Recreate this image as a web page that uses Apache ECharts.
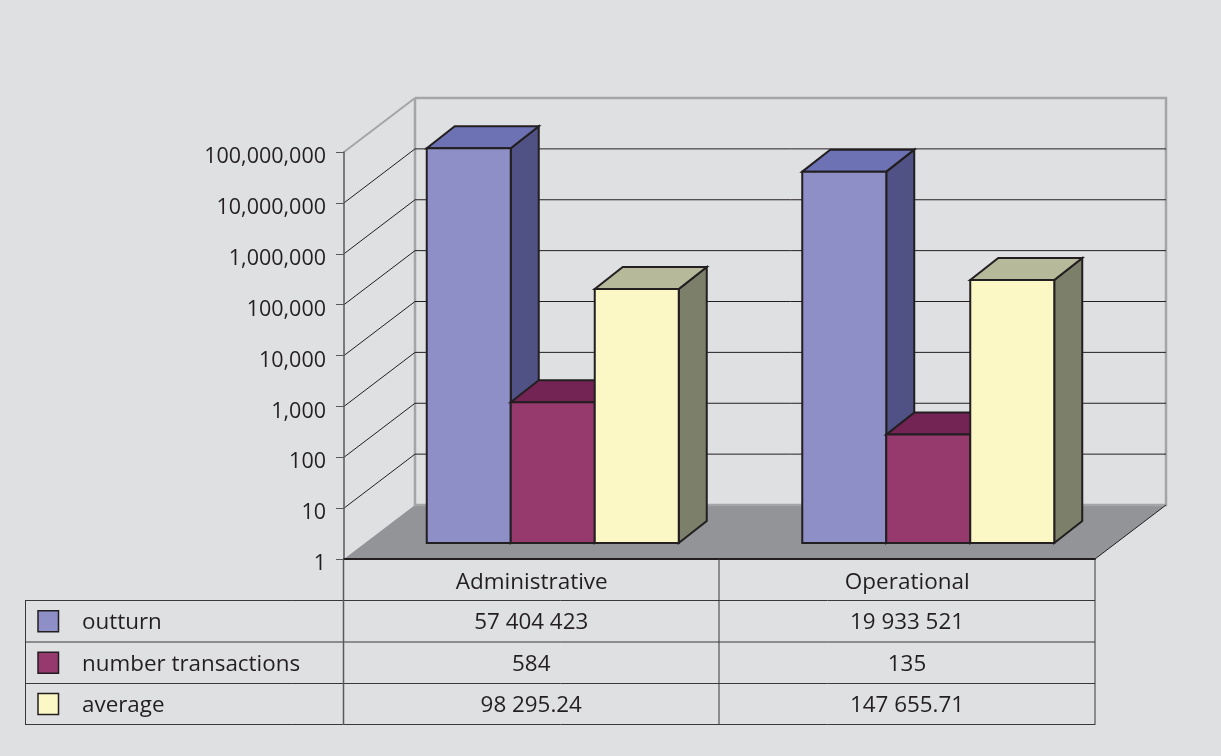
<!DOCTYPE html>
<html><head><meta charset="utf-8">
<style>html,body{margin:0;padding:0;background:#dfe0e2}#c{width:1221px;height:756px}</style>
<script src="https://cdn.jsdelivr.net/npm/echarts@6/dist/echarts.min.js"></script>
</head><body><div id="c"></div>
<script>
const categories = ['Administrative', 'Operational'];
const outturn = [57404423, 19933521];
const numberTransactions = [584, 135];
const average = [98295.24, 147655.71];
const seriesNames = ['outturn', 'number transactions', 'average'];
const yTicks = [10, 100, 1000, 10000, 100000, 1000000, 10000000, 100000000];

const FONT = '"Open Sans", "Noto Sans", sans-serif';
const INK = '#231f20';
const colors = [
  {front: '#8d8fc6', top: '#6d72b4', side: '#505285'},
  {front: '#963a6e', top: '#732454', side: '#5f1d45'},
  {front: '#fbf8c6', top: '#b6b99a', side: '#7c7f69'}
];
const GRID = {left: 344, top: 152, width: 751, height: 407};
const WALL_DX = 71, WALL_DY = 54, BAR_INSET_X = 21, BAR_INSET_Y = 16, BAR_DX = 28, BAR_DY = 22, BAR_W = 84;

function fmtSpaced(v) {
  const p = String(v).split('.');
  p[0] = p[0].replace(/\B(?=(\d{3})+(?!\d))/g, ' ');
  return p.join('.');
}
function poly(points, fill, stroke, lw, z2) {
  return {type: 'polygon', z2: z2 || 0, shape: {points},
    style: {fill: fill, stroke: stroke || null, lineWidth: lw || 0, lineJoin: 'miter'}};
}
function line(points, stroke, lw) {
  return {type: 'polyline', shape: {points}, style: {fill: null, stroke, lineWidth: lw}};
}

function barSeries(name, values, si) {
  return {
    type: 'custom', name, coordinateSystem: 'cartesian2d', clip: false, z: 5 + si,
    encode: {x: 0, y: 1},
    data: values.map((v, i) => [i, v]),
    renderItem(params, api) {
      const top = api.coord([api.value(0), api.value(1)]);
      const base = api.coord([api.value(0), 1]);
      const x0 = top[0] + BAR_INSET_X - BAR_W * 1.5 + si * BAR_W;
      const x1 = x0 + BAR_W;
      const yT = top[1] - BAR_INSET_Y, yB = base[1] - BAR_INSET_Y;
      const c = colors[si];
      const s = {stroke: INK, lw: 2};
      return {type: 'group', children: [
        poly([[x1, yT], [x1 + BAR_DX, yT - BAR_DY], [x1 + BAR_DX, yB - BAR_DY], [x1, yB]], c.side, s.stroke, s.lw),
        poly([[x0, yT], [x0 + BAR_DX, yT - BAR_DY], [x1 + BAR_DX, yT - BAR_DY], [x1, yT]], c.top, s.stroke, s.lw),
        poly([[x0, yT], [x1, yT], [x1, yB], [x0, yB]], c.front, s.stroke, s.lw)
      ]};
    }
  };
}

const wallSeries = {
  type: 'custom', name: 'walls', coordinateSystem: 'cartesian2d', clip: false, z: 1, silent: true,
  encode: {x: 0, y: 1}, tooltip: {show: false},
  data: [[0, 1]],
  renderItem(params, api) {
    const r = params.coordSys;
    const L = r.x, R = r.x + r.width, B = r.y + r.height, T = r.y;
    const gray = '#a3a5a7';
    return {type: 'group', children: [
      poly([[L, B], [L + WALL_DX, B - WALL_DY], [R + WALL_DX, B - WALL_DY], [R, B]], '#929497'),
      line([[L + WALL_DX, T - WALL_DY], [R + WALL_DX, T - WALL_DY], [R + WALL_DX, B - WALL_DY], [L + WALL_DX, B - WALL_DY], [L + WALL_DX, T - WALL_DY]], gray, 2.5),
      line([[L, T], [L + WALL_DX, T - WALL_DY]], gray, 2),
      line([[R, B], [R + WALL_DX, B - WALL_DY]], INK, 1)
    ]};
  }
};
const gridSeries = {
  type: 'custom', name: 'gridlines', coordinateSystem: 'cartesian2d', clip: false, z: 2, silent: true,
  encode: {x: 0, y: 1}, tooltip: {show: false},
  data: yTicks.slice(0, -1).map(t => [0, t]),
  renderItem(params, api) {
    const r = params.coordSys;
    const y = api.coord([0, api.value(1)])[1];
    return line([[r.x, y], [r.x + WALL_DX, y - WALL_DY], [r.x + r.width + WALL_DX, y - WALL_DY]], INK, 1);
  }
};

/* data table under the chart */
const TBL = {left: 25.5, col1: 343.5, col2: 719, right: 1095, head: 559, rows: [600, 641.5, 683, 724]};
const tableRows = [outturn, numberTransactions, average];
const graphics = [];
function gLine(x1, y1, x2, y2, stroke, lw) {
  graphics.push({type: 'line', z: 20, shape: {x1, y1, x2, y2}, style: {stroke, lineWidth: lw}});
}
function gText(x, y, text, align) {
  graphics.push({type: 'text', z: 21, x, y: y + 1.5, style: {text, fill: INK, font: '22.4px ' + FONT, align, verticalAlign: 'middle'}});
}
TBL.rows.forEach(y => gLine(TBL.left, y + .5, TBL.right, y + .5, '#3a3839', 1));
gLine(TBL.left + .0, TBL.rows[0], TBL.left + .0, TBL.rows[3] + 1, '#3a3839', 1);
gLine(TBL.col1, TBL.head, TBL.col1, TBL.rows[3] + 1, '#58595b', 1.5);
gLine(TBL.col2, TBL.head, TBL.col2, TBL.rows[3] + 1, '#3a3839', 1);
gLine(TBL.right, TBL.head, TBL.right, TBL.rows[3] + 1, '#3a3839', 1);
seriesNames.forEach((n, i) => {
  const yc = (TBL.rows[i] + TBL.rows[i + 1]) / 2 + .5;
  graphics.push({type: 'rect', z: 21, shape: {x: 38, y: yc - 10.5, width: 20.5, height: 21},
    style: {fill: colors[i].front, stroke: INK, lineWidth: 1.5}});
  gText(82, yc, n, 'left');
  categories.forEach((c, j) => {
    gText((j ? (TBL.col2 + TBL.right) : (TBL.col1 + TBL.col2)) / 2, yc, fmtSpaced(tableRows[i][j]), 'center');
  });
});

const chart = echarts.init(document.getElementById('c'), null, {renderer: 'canvas'});
chart.setOption({
  animation: false,
  backgroundColor: '#dfe0e2',
  grid: GRID,
  xAxis: {
    type: 'category', data: categories, z: 8,
    axisLine: {show: true, onZero: false, lineStyle: {color: INK, width: 2}},
    axisTick: {show: false},
    axisLabel: {color: INK, fontFamily: FONT, fontSize: 22.5, margin: 12},
    splitLine: {show: false}
  },
  yAxis: {
    type: 'log', logBase: 10, min: 1, max: 100000000, z: 8,
    axisLine: {show: true, lineStyle: {color: '#58595b', width: 1.5}},
    axisTick: {show: true, length: 8, lineStyle: {color: '#58595b', width: 1}},
    minorTick: {show: false},
    axisLabel: {color: INK, fontFamily: FONT, fontSize: 21.5, margin: 18, verticalAlign: 'top', lineHeight: 10,
      formatter: v => Math.round(v).toLocaleString('en-US')},
    splitLine: {show: false}
  },
  graphic: graphics,
  series: [wallSeries, gridSeries,
    barSeries(seriesNames[0], outturn, 0),
    barSeries(seriesNames[1], numberTransactions, 1),
    barSeries(seriesNames[2], average, 2)]
});
</script></body></html>
